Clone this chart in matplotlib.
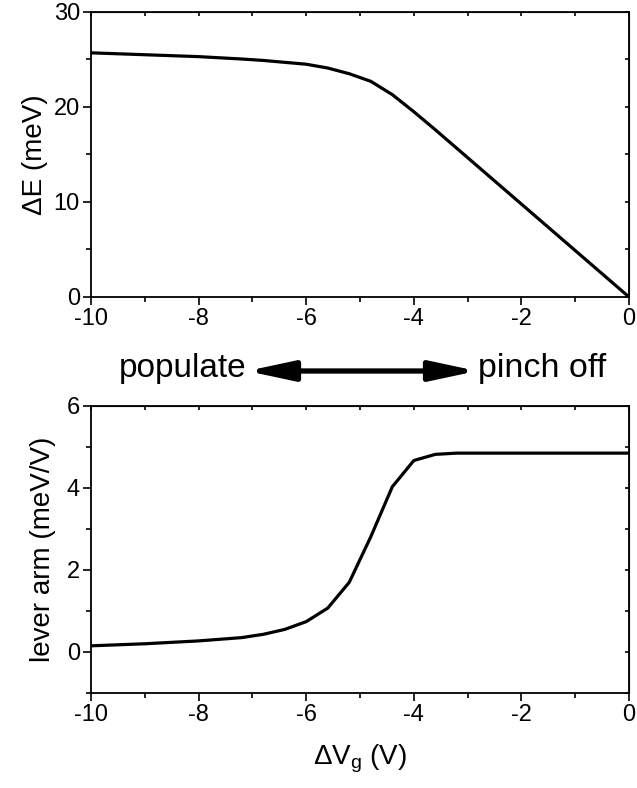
import numpy as np
import matplotlib
matplotlib.use("Agg")
import matplotlib.pyplot as plt
from matplotlib.patches import FancyArrowPatch
from matplotlib.ticker import MultipleLocator

plt.rcParams['font.family'] = ['Liberation Sans', 'DejaVu Sans']
plt.rcParams['mathtext.fontset'] = 'custom'
plt.rcParams['mathtext.rm'] = 'Liberation Sans'
plt.rcParams['mathtext.it'] = 'Liberation Sans'
plt.rcParams['axes.unicode_minus'] = False

# --- data ---
vg_top = [-10.0, -9.0, -8.0, -7.2, -6.8, -6.4, -6.0, -5.6, -5.2, -4.8, -4.4, -4.0, -3.6, 0.0]
dE = [25.7, 25.5, 25.3, 25.05, 24.9, 24.7, 24.5, 24.1, 23.5, 22.7, 21.3, 19.5, 17.6, 0.0]

vg_bot = [-10.0, -9.0, -8.0, -7.2, -6.8, -6.4, -6.0, -5.6, -5.2, -4.8, -4.4, -4.0, -3.6, -3.2, 0.0]
lever = [0.15, 0.20, 0.27, 0.35, 0.43, 0.55, 0.74, 1.07, 1.70, 2.81, 4.03, 4.67, 4.82, 4.85, 4.85]

fig = plt.figure(figsize=(6.37, 7.88), dpi=100)
ax1 = fig.add_axes([0.1429, 0.6231, 0.8446, 0.3617])
ax2 = fig.add_axes([0.1429, 0.1206, 0.8446, 0.3642])

tick_fs = 17


def style(ax, ymajor, yminor):
    ax.set_xlim(-10, 0)
    ax.xaxis.set_major_locator(MultipleLocator(2))
    ax.xaxis.set_minor_locator(MultipleLocator(1))
    ax.yaxis.set_major_locator(MultipleLocator(ymajor))
    ax.yaxis.set_minor_locator(MultipleLocator(yminor))
    for s in ax.spines.values():
        s.set_linewidth(1.3)
    ax.tick_params(which='both', direction='out', top=False, right=False,
                   width=1.2, labelsize=tick_fs)
    ax.tick_params(which='major', length=6, pad=2)
    ax.tick_params(which='minor', length=3.5)
    # inward ticks on top and right
    sec_x = ax.secondary_xaxis('top')
    sec_x.xaxis.set_major_locator(MultipleLocator(1))
    sec_x.tick_params(direction='in', length=3, width=1.2, labeltop=False)
    sec_y = ax.secondary_yaxis('right')
    sec_y.yaxis.set_major_locator(MultipleLocator(yminor))
    sec_y.tick_params(direction='in', length=3, width=1.2, labelright=False)


ax1.plot(vg_top, dE, color='black', lw=2.3)
ax1.set_ylim(0, 30)
style(ax1, 10, 5)
ax1.set_ylabel('ΔE (meV)', fontsize=20, labelpad=4)

ax2.plot(vg_bot, lever, color='black', lw=2.3)
ax2.set_ylim(-1, 6)
style(ax2, 2, 1)
ax2.set_ylabel('lever arm (meV/V)', fontsize=20, labelpad=8)
ax2.set_xlabel(r'ΔV$_{\mathregular{g}}$ (V)', fontsize=20, labelpad=12)

# --- populate / pinch off arrow ---
fig.text(246 / 637, 1 - 369 / 788, 'populate', fontsize=24, ha='right', va='center')
fig.text(478 / 637, 1 - 369 / 788, 'pinch off', fontsize=24.5, ha='left', va='center')
arrow = FancyArrowPatch((247 / 637, 1 - 371 / 788), (477 / 637, 1 - 371 / 788),
                        transform=fig.transFigure,
                        arrowstyle='<|-|>,head_length=28,head_width=6',
                        mutation_scale=1, lw=3.8, color='black',
                        shrinkA=0, shrinkB=0, joinstyle='round')
fig.patches.append(arrow)

fig.savefig('out.png', dpi=100)
